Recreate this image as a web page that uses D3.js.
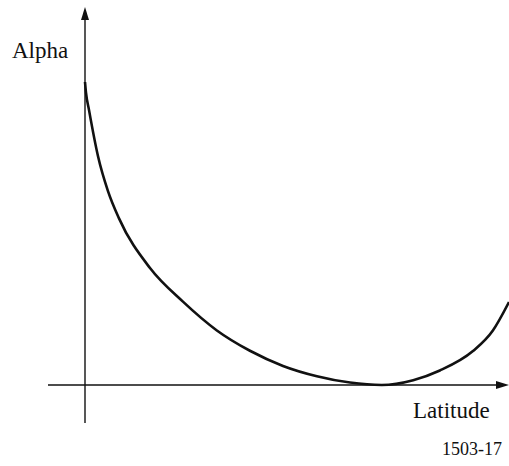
<!DOCTYPE html>
<html lang="en">
<head>
<meta charset="UTF-8">
<title>Alpha vs Latitude</title>
<style>
  body { margin: 0; background: #fff; }
  svg { display: block; }
  .axis-line { stroke: #111; stroke-width: 1.4px; }
  .curve { fill: none; stroke: #111; stroke-width: 2.6px; }
</style>
</head>
<body>
<svg width="509" height="466"></svg>
<script src="https://cdn.jsdelivr.net/npm/d3@7"></script>
<script>
// values (arbitrary units, no ticks on the original)
const latitude = [0, 0.24, 0.94, 3.07, 5.42, 8.02, 15.33, 23.1, 31.1, 38.9, 46.7, 54.7, 62.5, 70.0, 77.4, 83.7, 91.5, 96.2, 100];
const alpha    = [100, 96.4, 90.8, 75.5, 64, 55, 38.6, 27.5, 18.0, 11.3, 6.3, 2.9, 0.8, 0, 1.6, 4.8, 11.2, 18.0, 27.4];
const xLabel = "Latitude";
const yLabel = "Alpha";
const figId = "1503-17";

const serif = "Liberation Serif";

const width = 509, height = 466;
const svg = d3.select("svg").attr("width", width).attr("height", height);

const x = d3.scaleLinear().domain([0, 100]).range([85, 509]);
const y = d3.scaleLinear().domain([0, 100]).range([385, 82]);

// axes with arrow heads
const x0 = x(0), y0 = y(0);
svg.append("line").attr("class", "axis-line")
  .attr("x1", x0).attr("x2", x0).attr("y1", 423).attr("y2", 16);
svg.append("path").attr("fill", "#111")
  .attr("d", `M${x0},7 L${x0 - 4},20 L${x0 + 4},20 Z`);

svg.append("line").attr("class", "axis-line")
  .attr("x1", 48).attr("x2", 502).attr("y1", y0).attr("y2", y0);
svg.append("path").attr("fill", "#111")
  .attr("d", `M509,${y0} L496,${y0 - 4} L496,${y0 + 4} Z`);

// the curve
const pts = latitude.map((v, i) => [v, alpha[i]]);
const line = d3.line()
  .x(d => x(d[0]))
  .y(d => y(d[1]))
  .curve(d3.curveMonotoneX);

svg.append("path").datum(pts).attr("class", "curve").attr("d", line);

// labels
function label(tx, ty, size, str) {
  svg.append("text")
    .attr("x", tx).attr("y", ty)
    .attr("font-family", serif)
    .attr("font-size", size)
    .attr("fill", "#111")
    .text(str);
}
label(12, 58, 23, yLabel);
label(413, 418, 23, xLabel);
label(442, 455, 18, figId);
</script>
</body>
</html>
